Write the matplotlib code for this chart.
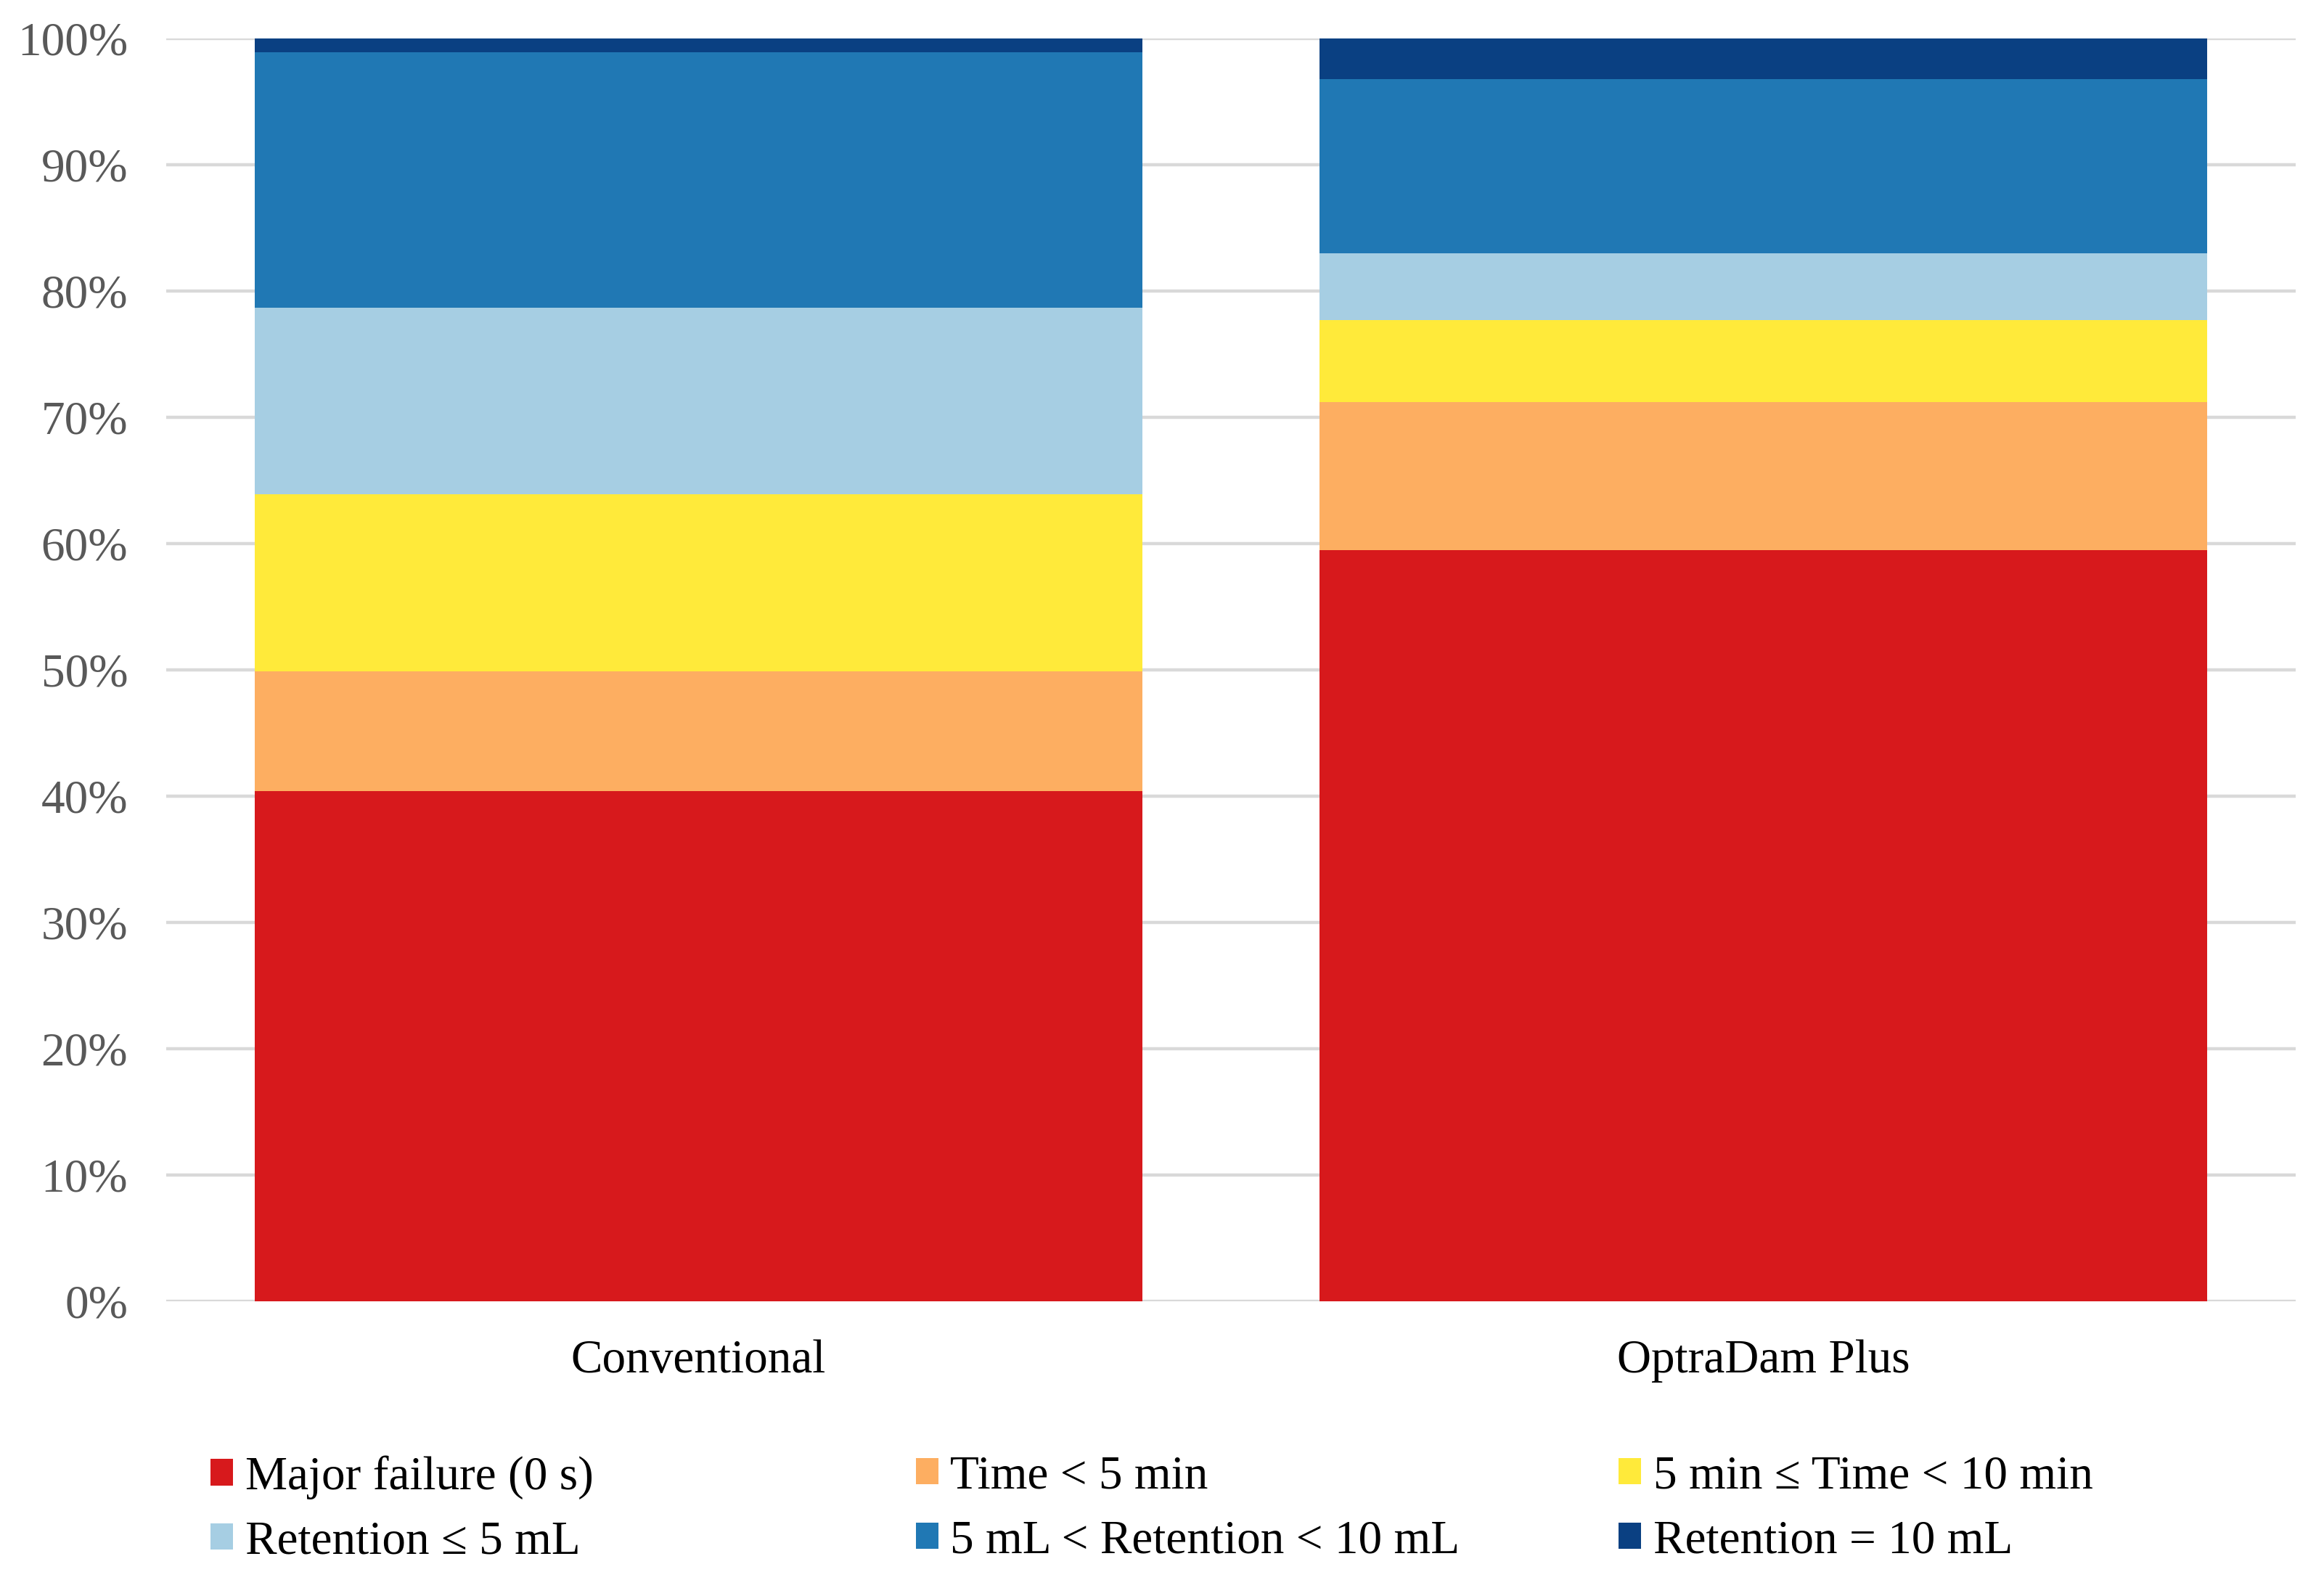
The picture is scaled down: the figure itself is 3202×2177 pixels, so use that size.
import matplotlib.pyplot as plt
import numpy as np
from matplotlib.ticker import PercentFormatter

plt.rcParams['font.family'] = ['Liberation Serif', 'DejaVu Serif']

# groups on the x axis
groups = ['Conventional', 'OptraDam Plus']

# outcome categories, bottom to top of the stack
labels = ['Major failure (0 s)', 'Time < 5 min', '5 min \u2264 Time < 10 min',
          'Retention \u2264 5 mL', '5 mL < Retention < 10 mL', 'Retention = 10 mL']
colors = ['#D7191C', '#FDAE61', '#FFEA3A', '#A6CEE3', '#2078B4', '#0A4082']

# share of each outcome (%) per group
major_failure = [40.4, 59.5]
time_lt5 = [9.5, 11.7]
time_5_10 = [14.0, 6.5]
ret_le5 = [14.8, 5.3]
ret_5_10 = [20.2, 13.8]
ret_10 = [1.1, 3.2]

series = [major_failure, time_lt5, time_5_10, ret_le5, ret_5_10, ret_10]

fig = plt.figure(figsize=(16.01, 10.885), dpi=200)
ax = fig.add_axes([0.0715, 0.1764, 0.9163, 0.7993])

x = np.arange(len(groups))
bottom = np.zeros(len(groups))
handles = []
for vals, lab, col in zip(series, labels, colors):
    b = ax.bar(x, vals, width=0.834, bottom=bottom, color=col, label=lab,
               edgecolor='none', zorder=2)
    handles.append(b)
    bottom += np.array(vals)

ax.set_xlim(-0.5, 1.5)
ax.set_ylim(0, 100)
ax.set_yticks(np.arange(0, 101, 10))
ax.yaxis.set_major_formatter(PercentFormatter(decimals=0))
ax.grid(axis='y', color='#D9D9D9', linewidth=1.6, zorder=0)
ax.set_axisbelow(True)
for s in ax.spines.values():
    s.set_visible(False)

fs = 23.5
ax.set_xticks(x)
ax.set_xticklabels(groups, fontsize=fs)
ax.tick_params(axis='x', length=0, pad=19)
ax.tick_params(axis='y', length=0, pad=19, labelsize=fs, labelcolor='#595959')

# legend in three columns, two rows (row-wise order as in the original)
col_x = [0.0906, 0.394, 0.6964]
for i in range(3):
    fig.legend([handles[i], handles[i + 3]], [labels[i], labels[i + 3]],
               loc='upper left', bbox_to_anchor=(col_x[i], 0.079),
               frameon=False, fontsize=fs, handlelength=0.48,
               handleheight=0.48, handletextpad=0.25, labelspacing=0.45,
               borderpad=0, borderaxespad=0)

plt.savefig('out.png', dpi=200)
